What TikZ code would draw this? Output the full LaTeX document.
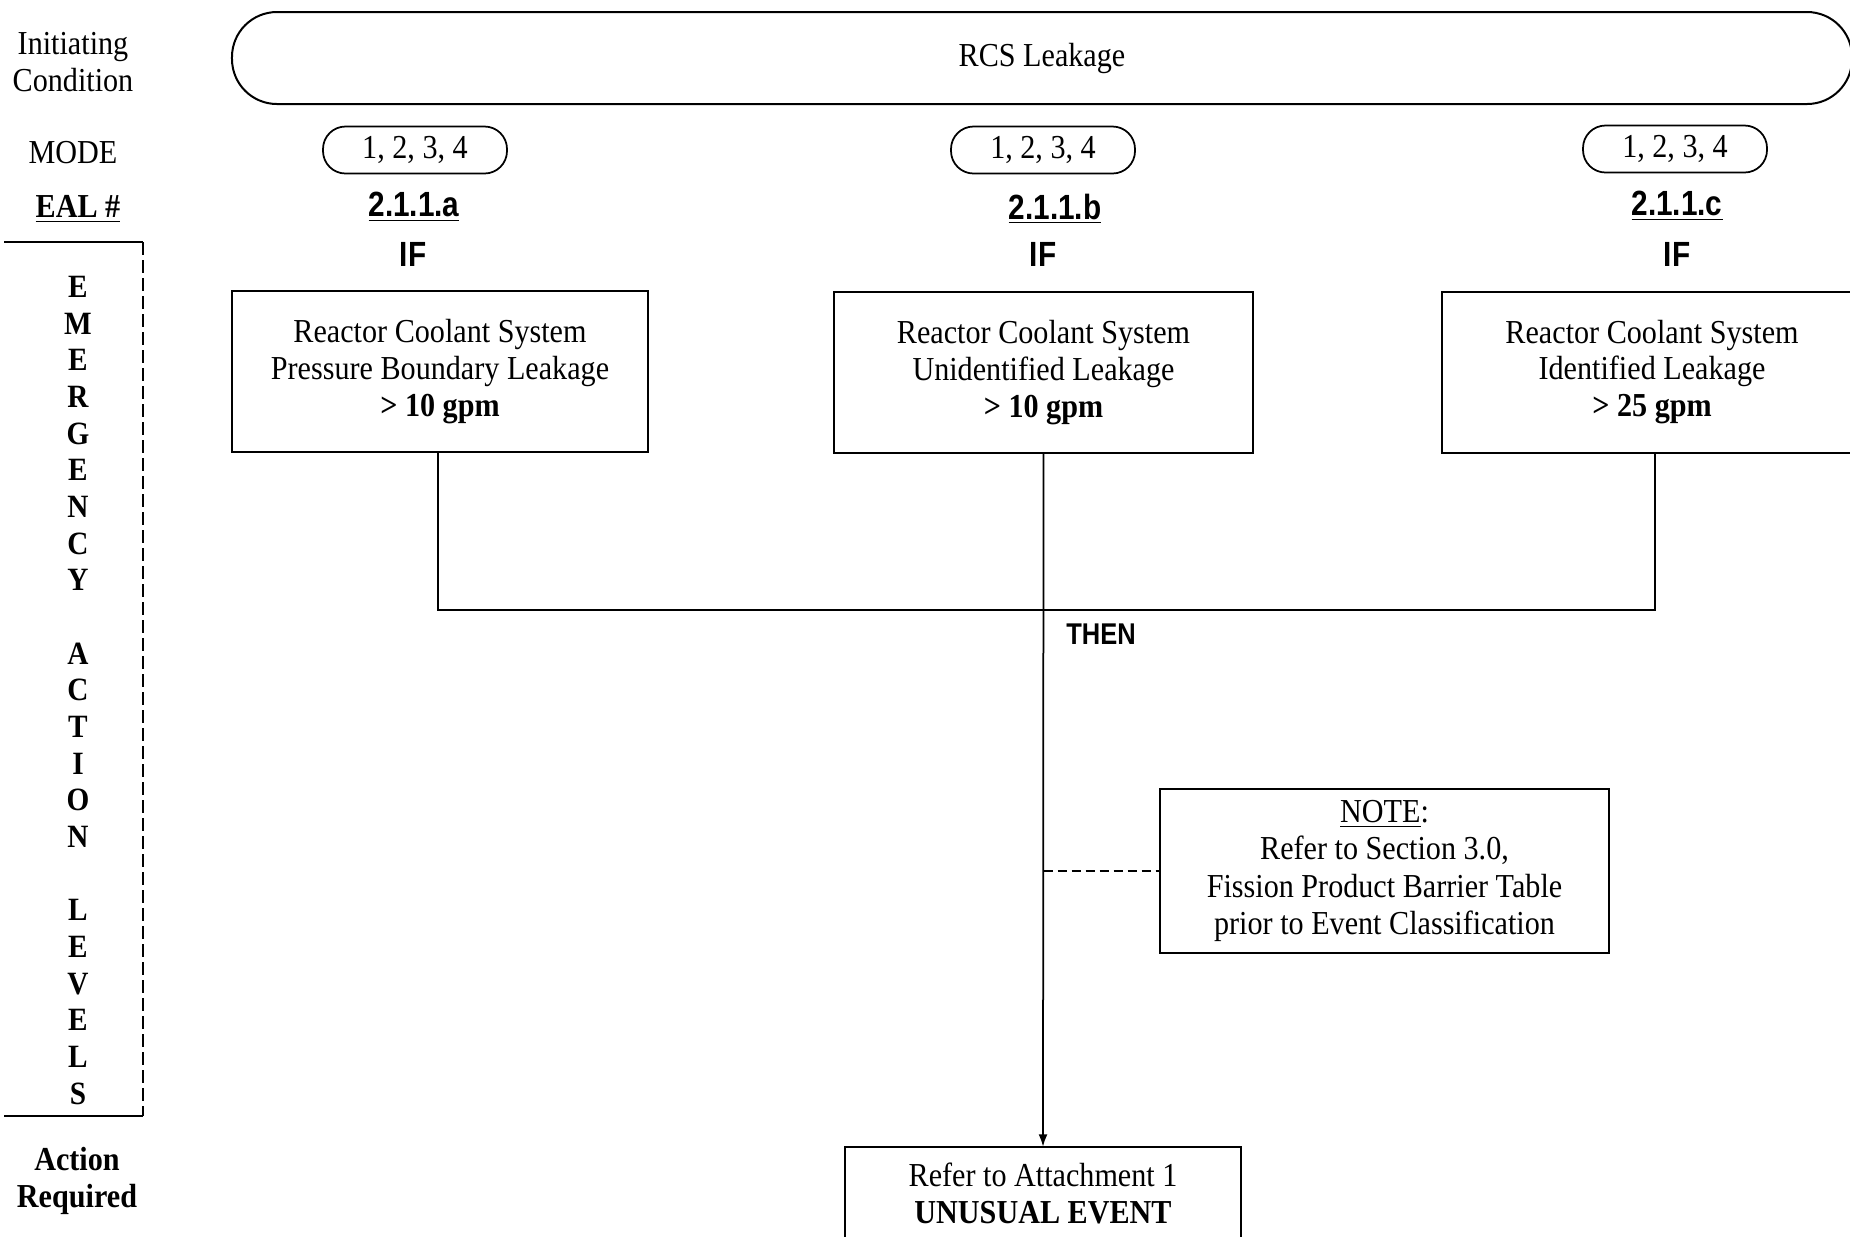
\documentclass[tikz,border=0pt]{standalone}
\usepackage{fontspec}
\setmainfont{Liberation Serif}[FakeStretch=0.9]
\newfontfamily\hsans{Liberation Sans}[FakeStretch=0.85]
\usetikzlibrary{arrows.meta}

\begin{document}
\begin{tikzpicture}[x=0.4pt,y=-0.4pt,
  every node/.style={inner sep=0pt, outer sep=0pt},
  body/.style={font=\fontsize{13.4}{14.7}\selectfont, align=center},
  bodybf/.style={font=\fontsize{13.4}{14.7}\selectfont\bfseries, align=center},
  vletter/.style={font=\fontsize{13}{13}\selectfont\bfseries},
  ealnum/.style={font=\hsans\fontsize{14}{16}\selectfont\bfseries},
  cond/.style={draw, line width=0.8pt, body, minimum height=64.4pt},
  modepill/.style={draw, line width=0.7pt, rounded corners=9pt, body,
                   minimum width=73.6pt, minimum height=18.8pt},
  flow/.style={line width=0.7pt},
]
\useasboundingbox (0,0) rectangle (1850,1236);

% row headings on the left
\node[body] (initlbl) at (73,62) {Initiating\\Condition};
\node[body] (modelbl) at (73,153) {MODE};
\node[bodybf] (eallbl) at (78,209) {\underline{EAL \#}};
\node[bodybf] (actlbl) at (77,1181) {Action\\Required};

% bracket of the vertical heading
\coordinate (stl) at (4,242);
\coordinate (str) at (143,242);
\coordinate (sbr) at (143,1116);
\coordinate (sbl) at (4,1116);
\draw[flow] (stl) -- (str);
\draw[flow, dash pattern=on 5.2pt off 2pt] (str) -- (sbr);
\draw[flow] (sbr) -- (sbl);

\foreach \ch [count=\i from 0] in {E,M,E,R,G,E,N,C,Y}
  \node[vletter] (va\i) at (78,{286.7+\i*36.68}) {\ch};
\foreach \ch [count=\i from 10] in {A,C,T,I,O,N}
  \node[vletter] (vb\i) at (78,{286.7+\i*36.68}) {\ch};
\foreach \ch [count=\i from 17] in {L,E,V,E,L,S}
  \node[vletter] (vc\i) at (78,{286.7+\i*36.68}) {\ch};

% initiating condition
\node[draw, line width=0.8pt, rounded corners=18pt, body,
      minimum width=648pt, minimum height=36.8pt] (ic) at (1042,58) {RCS Leakage};

% modes
\node[modepill] (ma) at (415,150) {1, 2, 3, 4};
\node[modepill] (mb) at (1043,150) {1, 2, 3, 4};
\node[modepill] (mc) at (1675,149) {1, 2, 3, 4};

% EAL numbers
\node[ealnum] (ea) at (414,207) {\underline{2.1.1.a}};
\node[ealnum] (eb) at (1055,209) {\underline{2.1.1.b}};
\node[ealnum] (ec) at (1677,206) {\underline{2.1.1.c}};

\node[ealnum] (ifa) at (413,254) {IF};
\node[ealnum] (ifb) at (1043,254) {IF};
\node[ealnum] (ifc) at (1677,254) {IF};

% conditions
\node[cond, minimum width=166.4pt] (ca) at (440,371.5)
  {Reactor Coolant System\\Pressure Boundary Leakage\\\textbf{> 10 gpm}};
\node[cond, minimum width=167.6pt] (cb) at (1043.5,372.5)
  {Reactor Coolant System\\Unidentified Leakage\\\textbf{> 10 gpm}};
\node[cond, minimum width=168pt] (cc) at (1652,372)
  {Reactor Coolant System\\Identified Leakage\\\textbf{> 25 gpm}};

% note
\node[draw, line width=0.8pt, font=\fontsize{13.4}{15}\selectfont, align=center,
      minimum width=179.6pt, minimum height=65.6pt] (note) at (1384.5,871)
  {\underline{NOTE}:\\Refer to Section 3.0,\\Fission Product Barrier Table\\prior to Event Classification};

% action
\node[draw, line width=0.8pt, body, minimum width=158.4pt, minimum height=37.4pt] (act) at (1043,1193.5)
  {Refer to Attachment 1\\\textbf{UNUSUAL EVENT}};

% connectors
\coordinate (ja) at (438,610);
\coordinate (jc) at (1655,610);
\draw[flow] (ca.south -| ja) -- (ja) -- (jc) -- (cc.south -| jc);
\draw[flow, -{Latex[length=5pt,width=3.6pt]}] (cb.south) -- (act.north);
\node[font=\hsans\fontsize{12}{14}\selectfont\bfseries] (then) at (1101,634) {THEN};
\draw[flow, dash pattern=on 3.6pt off 2pt] (cb.south |- note.west) -- (note.west);

\end{tikzpicture}
\end{document}
